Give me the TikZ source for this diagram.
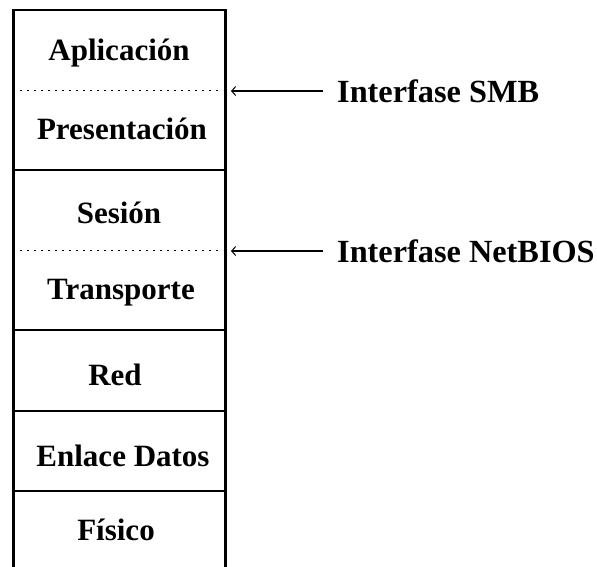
\documentclass[tikz,border=0pt]{standalone}
\usepackage{fontspec}
\setmainfont{Liberation Serif}
\usetikzlibrary{arrows.meta}
\tikzset{
  layer/.style={font=\fontsize{31}{35}\selectfont\bfseries, anchor=base, inner sep=0pt},
  lbl/.style={font=\fontsize{32.3}{36}\selectfont\bfseries, anchor=base west, inner sep=0pt},
  frame/.style={line width=3pt, line cap=rect},
  sep/.style={line width=2pt},
  dots/.style={line width=1.8pt, dash pattern=on 1.6pt off 5.4pt},
  pointer/.style={line width=1.3pt, {Straight Barb[length=4pt,width=9pt,line width=1pt]}-}
}
\begin{document}
\begin{tikzpicture}[x=1pt,y=-1pt]
\useasboundingbox (0,0) rectangle (597,566);
\fill[white] (0,0) rectangle (597,566);
% frame
\draw[sep] (13,10) -- (225,10);
\draw[frame] (13,10) -- (13,570);
\draw[frame] (225,10) -- (225,570);
\draw[sep] (13,170) -- (225,170);
\draw[sep] (13,330) -- (225,330);
\draw[sep] (13,411) -- (225,411);
\draw[sep] (13,491) -- (225,491);
\draw[dots] (20,90.5) -- (223,90.5);
\draw[dots] (20,250.5) -- (223,250.5);
% layers
\node[layer] (apl) at (119,60) {Aplicación};
\node[layer] (pre) at (122,139) {Presentación};
\node[layer] (ses) at (119,223) {Sesión};
\node[layer] (tra) at (121,299) {Transporte};
\node[layer] (red) at (115,385) {Red};
\node[layer] (enl) at (123,466) {Enlace Datos};
\node[layer] (fis) at (116,540) {Físico};
% interfaces
\coordinate (smbend) at (231,91);
\coordinate (nbend) at (231,251);
\node[lbl] (smb) at (337,102) {Interfase SMB};
\node[lbl] (nb) at (337,262) {Interfase NetBIOS};
\draw[pointer] (smbend) -- (323,91);
\draw[pointer] (nbend) -- (323,251);
\end{tikzpicture}
\end{document}
